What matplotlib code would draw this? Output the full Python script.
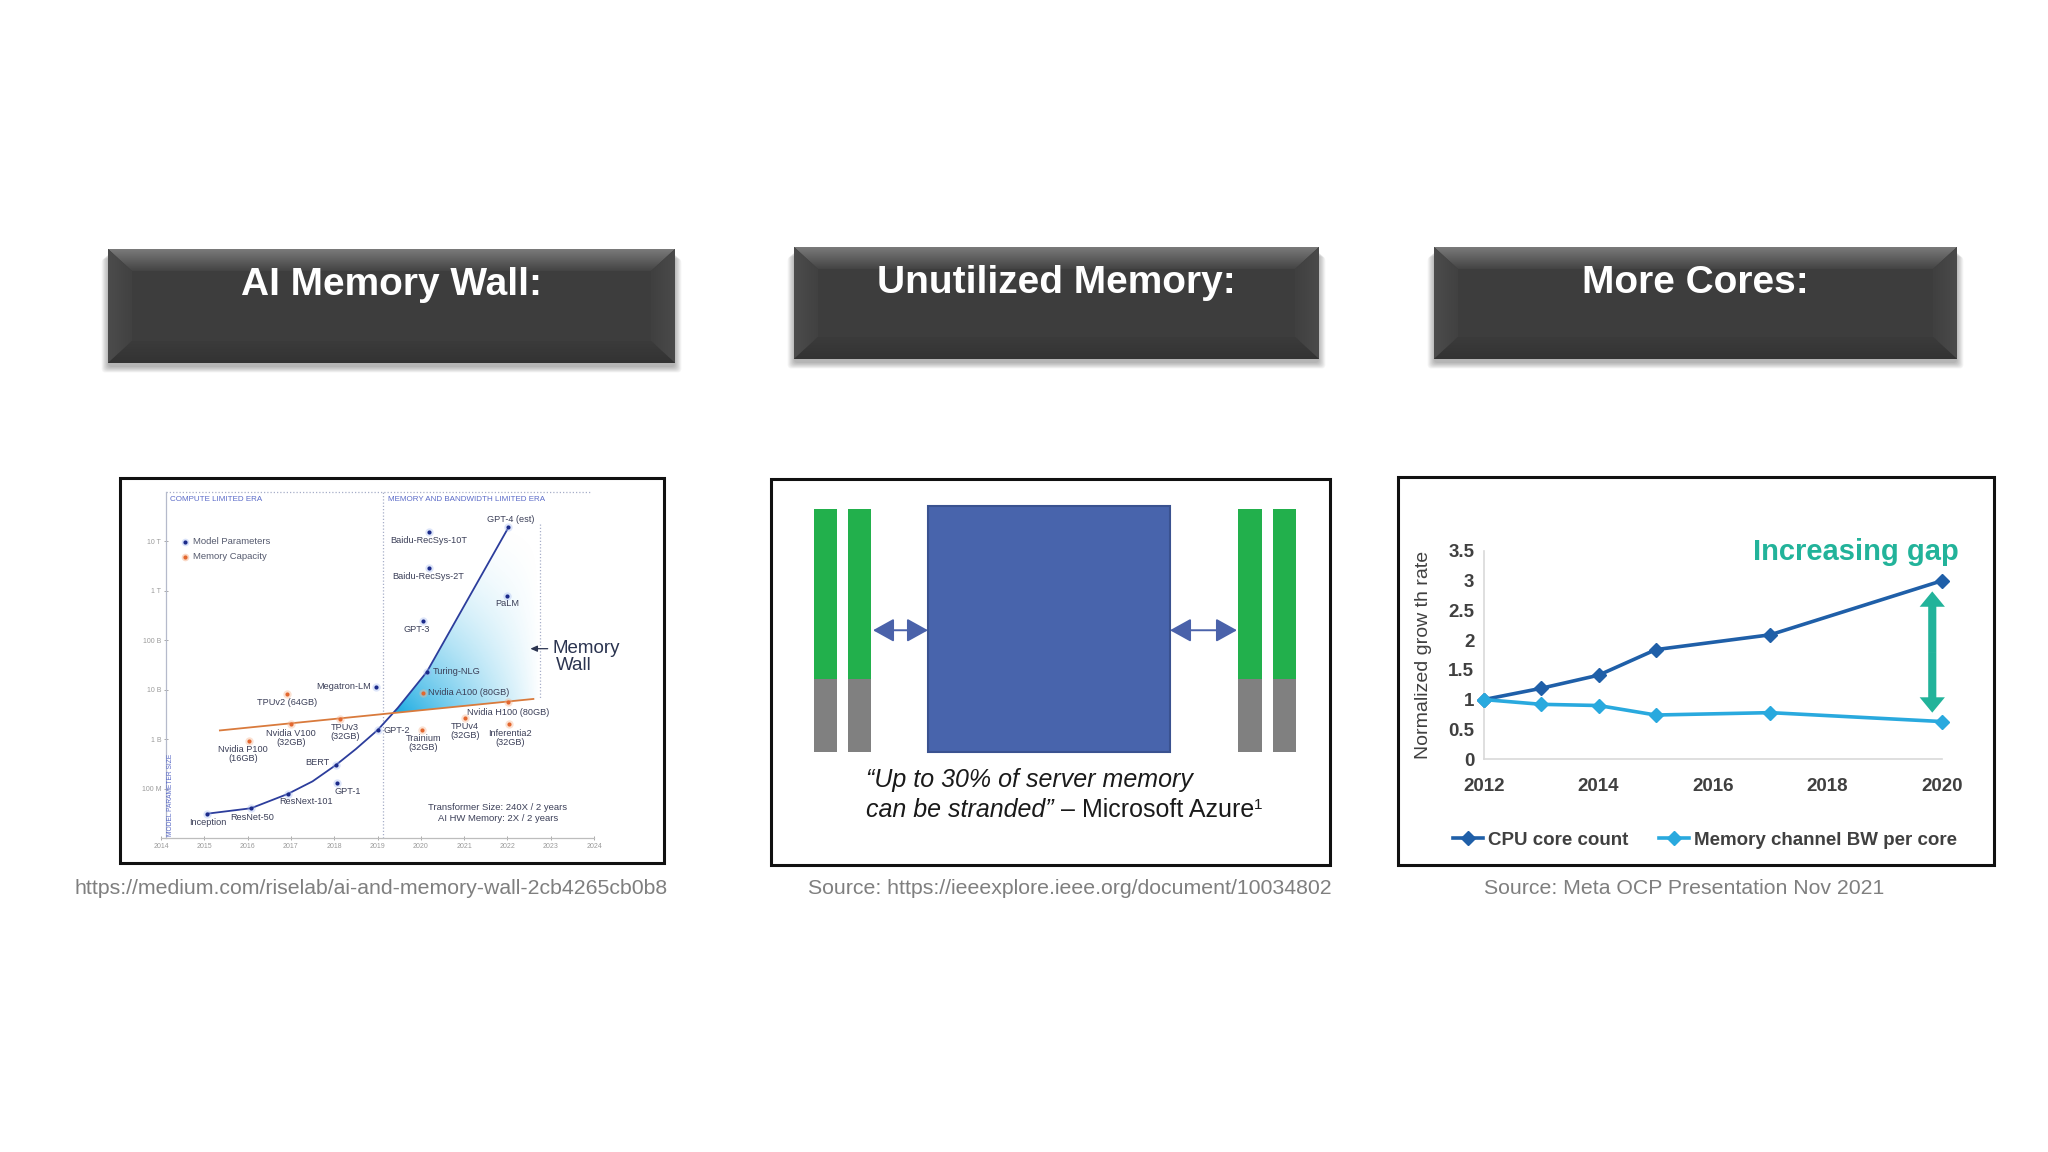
import numpy as np
import matplotlib
matplotlib.use("Agg")
import matplotlib.pyplot as plt
import matplotlib.colors as mcolors
from matplotlib.patches import Rectangle, Polygon, FancyArrowPatch, FancyBboxPatch
from matplotlib.ticker import FixedLocator, FixedFormatter, NullLocator

plt.rcParams['font.family'] = ['Liberation Sans', 'DejaVu Sans']

# ---------------- data ----------------
header_titles = ["AI Memory Wall:", "Unutilized Memory:", "More Cores:"]
source_captions = ["https://medium.com/riselab/ai-and-memory-wall-2cb4265cb0b8",
                   "Source: https://ieeexplore.ieee.org/document/10034802",
                   "Source: Meta OCP Presentation Nov 2021"]

# Panel 1 : AI memory wall
model_names = ["Inception", "ResNet-50", "ResNext-101", "BERT", "GPT-1", "GPT-2", "Megatron-LM",
               "Turing-NLG", "GPT-3", "Baidu-RecSys-2T", "Baidu-RecSys-10T", "PaLM", "GPT-4 (est)"]
model_years = [2015.06, 2016.08, 2016.93, 2018.04, 2018.06, 2019.01, 2018.97,
               2020.14, 2020.05, 2020.19, 2020.19, 2021.99, 2022.01]
model_params = [3.1e7, 4.0e7, 7.8e7, 3.0e8, 1.3e8, 1.5e9, 1.14e10,
                2.3e10, 2.4e11, 2.9e12, 1.56e13, 7.9e11, 1.98e13]

memory_names = ["TPUv2 (64GB)", "Nvidia V100\n(32GB)", "TPUv3\n(32GB)", "Nvidia P100\n(16GB)",
                "Nvidia A100 (80GB)", "Nvidia H100 (80GB)", "TPUv4\n(32GB)", "Inferentia2\n(32GB)",
                "Trainium\n(32GB)"]
memory_years = [2016.91, 2017.0, 2018.13, 2016.03, 2020.05, 2022.01, 2021.02, 2022.04, 2020.03]
memory_capacity = [8.2e9, 2.0e9, 2.6e9, 9.2e8, 8.7e9, 5.6e9, 2.7e9, 2.0e9, 1.5e9]

param_trend_years = [2015.06, 2016.08, 2016.93, 2017.5, 2018.04, 2018.5, 2019.01, 2019.47, 2020.14, 2021.99]
param_trend_values = [3.1e7, 4.0e7, 7.8e7, 1.4e8, 3.0e8, 6.3e8, 1.55e9, 4.3e9, 2.3e10, 1.7e13]
memory_trend_years = [2015.36, 2022.6]
memory_trend_values = [1.5e9, 6.5e9]

p1_xticks = [2014, 2015, 2016, 2017, 2018, 2019, 2020, 2021, 2022, 2023, 2024]
p1_yticks = [1e8, 1e9, 1e10, 1e11, 1e12, 1e13]
p1_yticklabels = ["100 M", "1 B", "10 B", "100 B", "1 T", "10 T"]
p1_legend = ["Model Parameters", "Memory Capacity"]
p1_era_labels = ["COMPUTE LIMITED ERA", "MEMORY AND BANDWIDTH LIMITED ERA"]
p1_notes = ["Transformer Size: 240X / 2 years", "AI HW Memory: 2X / 2 years"]

# Panel 2 : stranded memory
dimm_stranded_pct = [30, 30, 30, 30]
dimm_used_pct = [70, 70, 70, 70]

# Panel 3 : more cores
p3_years = [2012, 2013, 2014, 2015, 2017, 2020]
cpu_core_count = [1.0, 1.19, 1.41, 1.84, 2.09, 3.0]
mem_bw_per_core = [1.0, 0.92, 0.90, 0.74, 0.78, 0.63]
p3_xticks = [2012, 2014, 2016, 2018, 2020]
p3_yticks = [0, 0.5, 1, 1.5, 2, 2.5, 3, 3.5]
p3_yticklabels = ["0", "0.5", "1", "1.5", "2", "2.5", "3", "3.5"]

# ---------------- figure ----------------
W, H = 2048, 1152
fig = plt.figure(figsize=(W / 100, H / 100), dpi=100)
fig.patch.set_facecolor('white')

bg = fig.add_axes([0, 0, 1, 1])
bg.set_zorder(0)
bg.axis('off')


def px_axes(l, t, r, b, z=2):
    ax = fig.add_axes([l / W, 1 - b / H, (r - l) / W, (b - t) / H])
    ax.set_zorder(z)
    ax.patch.set_alpha(0)
    return ax


def grad_poly(verts, c0, c1, direction='v', z=3):
    poly = Polygon(verts, closed=True, fc='none', ec='none', transform=bg.transData)
    bg.add_patch(poly)
    xs = [v[0] for v in verts]
    ys = [v[1] for v in verts]
    x0, x1, y0, y1 = min(xs), max(xs), min(ys), max(ys)
    a = np.array(mcolors.to_rgb(c0))
    b = np.array(mcolors.to_rgb(c1))
    t = np.linspace(0, 1, 64)[:, None]
    cols = a[None, :] * (1 - t) + b[None, :] * t
    arr = cols[:, None, :] if direction == 'v' else cols[None, :, :]
    im = bg.imshow(arr, extent=(x0, x1, y1, y0), origin='upper', aspect='auto',
                   zorder=z, interpolation='bilinear')
    im.set_clip_path(poly)


def header_box(x0, y0, x1, y1, title, ty):
    w, h = x1 - x0, y1 - y0
    for i in range(9):
        bg.add_patch(FancyBboxPatch((x0 - i * 0.8, y0 + 4 + i * 0.7), w + i * 1.6, h,
                                    boxstyle='round,pad=0,rounding_size=4',
                                    fc='#000000', ec='none', alpha=0.035, zorder=1))
    bg.add_patch(Rectangle((x0, y0), w, h, fc='#3d3d3d', ec='none', zorder=2))
    b, bx = 22, 24
    grad_poly([(x0, y0), (x1, y0), (x1 - bx, y0 + b), (x0 + bx, y0 + b)], '#7a7a7a', '#444444', 'v')
    grad_poly([(x0, y0), (x0 + bx, y0 + b), (x0 + bx, y1 - b), (x0, y1)], '#4c4c4c', '#414141', 'h')
    grad_poly([(x1, y0), (x1 - bx, y0 + b), (x1 - bx, y1 - b), (x1, y1)], '#404040', '#4a4a4a', 'h')
    grad_poly([(x0, y1), (x0 + bx, y1 - b), (x1 - bx, y1 - b), (x1, y1)], '#3b3b3b', '#333333', 'v')
    bg.text((x0 + x1) / 2, ty, title, color='white', fontsize=28, fontweight='bold',
            ha='center', va='center', zorder=5)


header_box(108, 249, 675, 363, header_titles[0], 285)
header_box(794, 247, 1319, 359, header_titles[1], 283)
header_box(1434, 247, 1957, 359, header_titles[2], 283)

# panel borders
for (l, t, r, b) in [(120, 478, 664, 863), (771, 479, 1330, 865), (1398, 477, 1994, 865)]:
    bg.add_patch(Rectangle((l, t), r - l, b - t, fc='white', ec='#111111', lw=2.2, zorder=1))

# captions
for cx, txt in zip([371, 1070, 1684], source_captions):
    bg.text(cx, 888, txt, fontsize=15.3, color='#7f7f7f', ha='center', va='center', zorder=5)

# ---------------- Panel 1 ----------------
P1 = (161, 492, 594, 838)
ax1g = px_axes(*P1, z=1)
ax1g.set_xlim(2014, 2024)
ax1g.set_ylim(7, 14)
ax1g.axis('off')

yy = np.linspace(2019.0, 2022.0, 1201)
blue_log = np.interp(yy, param_trend_years, np.log10(param_trend_values))
orange_log = np.interp(yy, memory_trend_years, np.log10(memory_trend_values))
idx = int(np.argmax(blue_log >= orange_log))
x_cross, y_cross = yy[idx], orange_log[idx]
x_wall = 2022.75
lo0, lo1 = np.log10(memory_trend_values[0]), np.log10(memory_trend_values[1])
o_wall = lo0 + (lo1 - lo0) * (x_wall - memory_trend_years[0]) / (memory_trend_years[1] - memory_trend_years[0])
verts = [(x_cross, y_cross)]
for yr, v in zip(param_trend_years, param_trend_values):
    if yr > x_cross:
        verts.append((yr, np.log10(v)))
verts += [(x_wall, 13.36), (x_wall, o_wall)]
fill_poly = Polygon(verts, closed=True, fc='none', ec='none', transform=ax1g.transData)
ax1g.add_patch(fill_poly)
ny, nx = 160, 160
u = np.linspace(0, 1, nx)[None, :]
v = np.linspace(1, 0, ny)[:, None]
alpha = 0.95 * np.clip(1 - v, 0, 1) ** 1.5 * np.clip(1 - u, 0, 1) ** 0.9
alpha = np.clip(alpha + 0.10 * (1 - v) ** 0.5 * (1 - u) ** 2, 0, 1)
rgba = np.zeros((ny, nx, 4))
rgba[..., :3] = mcolors.to_rgb('#22aee3')
rgba[..., 3] = alpha
im = ax1g.imshow(rgba, extent=(x_cross, x_wall, y_cross, 13.4), origin='upper', aspect='auto',
                 interpolation='bilinear')
im.set_clip_path(fill_poly)
ax1g.set_xlim(2014, 2024)
ax1g.set_ylim(7, 14)

ax1 = px_axes(*P1, z=2)
ax1.set_xlim(2014, 2024)
ax1.set_yscale('log')
ax1.set_ylim(1e7, 1e14)
for s in ['top', 'right']:
    ax1.spines[s].set_visible(False)
ax1.spines['left'].set_position(('data', 2014.12))
ax1.spines['left'].set_color('#b5bacb')
ax1.spines['left'].set_linewidth(0.9)
ax1.spines['bottom'].set_color('#bdbdbd')
ax1.spines['bottom'].set_linewidth(0.9)
ax1.xaxis.set_major_locator(FixedLocator(p1_xticks))
ax1.xaxis.set_major_formatter(FixedFormatter([str(t) for t in p1_xticks]))
ax1.yaxis.set_major_locator(FixedLocator(p1_yticks))
ax1.yaxis.set_major_formatter(FixedFormatter(p1_yticklabels))
ax1.yaxis.set_minor_locator(NullLocator())
ax1.tick_params(labelsize=5, colors='#9a9a9a', length=3, width=0.6, direction='inout', pad=2)

dot_c = '#a7aec8'
ax1.plot([2014.12, 2023.9], [1e14, 1e14], ls=(0, (1, 1.6)), color=dot_c, lw=0.9, clip_on=False)
ax1.plot([2019.13, 2019.13], [1e7, 1e14], ls=(0, (1, 1.6)), color=dot_c, lw=0.9, clip_on=False)
ax1.plot([x_wall, x_wall], [10 ** 13.36, 10 ** o_wall], ls=(0, (1, 1.6)), color=dot_c, lw=0.9)

ax1.plot(param_trend_years, param_trend_values, color='#2c3d9c', lw=1.3, zorder=4)
ax1.plot(memory_trend_years, memory_trend_values, color='#d97a3c', lw=1.3, zorder=4)

ax1.scatter(model_years, model_params, s=36, color='#9fb6f0', alpha=0.35, lw=0, zorder=5)
ax1.scatter(model_years, model_params, s=9, color='#1b2a8a', lw=0, zorder=6)
ax1.scatter(memory_years, memory_capacity, s=36, color='#f5b48f', alpha=0.4, lw=0, zorder=5)
ax1.scatter(memory_years, memory_capacity, s=9, color='#e3672f', lw=0, zorder=6)

model_label_layout = [(1, -9, 'center'), (1, -9, 'center'), (18, -8, 'center'), (-6, 2, 'right'),
                      (11, -9, 'center'), (6, 0, 'left'), (-5, 0, 'right'), (6, 0, 'left'),
                      (-6, -8, 'center'), (-1, -8, 'center'), (0, -9, 'center'), (0, -8, 'center'),
                      (3, 7, 'center')]
memory_label_layout = [(0, -9, 'center'), (0, -13.5, 'center'), (5, -13.5, 'center'),
                       (-6, -13, 'center'), (5, 0, 'left'), (0, -10, 'center'),
                       (0, -13.5, 'center'), (1, -13.5, 'center'), (1, -12.5, 'center')]
lab_c = '#3b3f58'
for name, x, y, (dx, dy, ha) in zip(model_names, model_years, model_params, model_label_layout):
    ax1.annotate(name, (x, y), xytext=(dx, dy), textcoords='offset pixels', ha=ha, va='center',
                 fontsize=6.6, color=lab_c, zorder=7, annotation_clip=False)
for name, x, y, (dx, dy, ha) in zip(memory_names, memory_years, memory_capacity, memory_label_layout):
    ax1.annotate(name, (x, y), xytext=(dx, dy), textcoords='offset pixels', ha=ha, va='center',
                 fontsize=6.6, color=lab_c, zorder=7, linespacing=0.95, annotation_clip=False,
                 multialignment='center')

# legend
ax1.scatter([2014.55], [10 ** 12.99], s=30, color='#9fb6f0', alpha=0.4, lw=0)
ax1.scatter([2014.55], [10 ** 12.99], s=9, color='#1b2a8a', lw=0)
ax1.scatter([2014.55], [10 ** 12.69], s=30, color='#f5b48f', alpha=0.5, lw=0)
ax1.scatter([2014.55], [10 ** 12.69], s=9, color='#e3672f', lw=0)
ax1.text(2014.74, 10 ** 12.99, p1_legend[0], fontsize=6.8, color='#555a6e', va='center')
ax1.text(2014.74, 10 ** 12.69, p1_legend[1], fontsize=6.8, color='#555a6e', va='center')

ax1.text(2014.21, 10 ** 13.84, p1_era_labels[0], fontsize=5.8, color='#5b6bc8', va='center')
ax1.text(2019.24, 10 ** 13.84, p1_era_labels[1], fontsize=5.8, color='#5b6bc8', va='center')
ax1.text(2014.23, 10 ** 7.87, "MODEL PARAMETER SIZE", fontsize=4.8, color='#5b6bc8', rotation=90,
         ha='center', va='center')
ax1.text(2021.78, 10 ** 7.607, p1_notes[0], fontsize=6.8, color=lab_c, ha='center', va='center')
ax1.text(2021.78, 10 ** 7.385, p1_notes[1], fontsize=6.8, color=lab_c, ha='center', va='center')

ax1.annotate('', xy=(2022.53, 10 ** 10.83), xytext=(2022.93, 10 ** 10.83),
             arrowprops=dict(arrowstyle='-|>,head_length=0.4,head_width=0.18', color='#2b3450', lw=0.9,
                             shrinkA=0, shrinkB=0), annotation_clip=False)
ax1.text(2023.05, 10 ** 10.83, "Memory", fontsize=13.5, color='#2b3450', va='center', ha='left',
         clip_on=False)
ax1.text(2023.13, 10 ** 10.5, "Wall", fontsize=13.5, color='#2b3450', va='center', ha='left',
         clip_on=False)

# ---------------- Panel 2 ----------------
ax2 = px_axes(771, 479, 1330, 865, z=2)
k = 2.435
ax2.set_xlim(771, 1330)
ax2.set_ylim((752 - 865) / k, (752 - 479) / k)
ax2.axis('off')
dimm_x = [825.25, 859.5, 1249.75, 1284.5]
ax2.bar(dimm_x, dimm_stranded_pct, width=23.5, color='#808080', lw=0)
ax2.bar(dimm_x, dimm_used_pct, bottom=dimm_stranded_pct, width=23.5, color='#22b04c', lw=0)
ax2.add_patch(Rectangle((928, 0), 242, 101, fc='#4864ac', ec='#3a5290', lw=1.5))
for xa, xb in [(873, 928), (1170, 1237)]:
    ax2.add_patch(FancyArrowPatch((xa, 50), (xb, 50),
                                  arrowstyle='<|-|>,head_length=1.3,head_width=0.72',
                                  mutation_scale=10, lw=1.4, color='#4a62aa',
                                  shrinkA=0, shrinkB=0))

t1 = bg.text(866, 780, "\u201cUp to 30% of server memory", style='italic', fontsize=18,
             color='#1a1a1a', ha='left', va='center', zorder=6)
t2a = bg.text(866, 810, "can be stranded\u201d", style='italic', fontsize=18,
              color='#1a1a1a', ha='left', va='center', zorder=6)
t2b = bg.annotate(" \u2013 Microsoft Azure", xy=(1, 0), xycoords=t2a, ha='left', va='bottom',
                  fontsize=18, color='#1a1a1a', zorder=6)
bg.annotate("1", xy=(1, 1), xycoords=t2b, ha='left', va='top', fontsize=11, color='#1a1a1a', zorder=6)

# ---------------- Panel 3 ----------------
ax3 = px_axes(1484, 551, 1942, 759, z=2)
ax3.set_xlim(2012, 2020)
ax3.set_ylim(0, 3.5)
for s in ['top', 'right']:
    ax3.spines[s].set_visible(False)
for s in ['left', 'bottom']:
    ax3.spines[s].set_color('#d9d9d9')
    ax3.spines[s].set_linewidth(1.2)
l_cpu, = ax3.plot(p3_years, cpu_core_count, color='#1f5fa8', lw=2.6, marker='D', ms=7.5,
                  clip_on=False, label='CPU core count', zorder=3)
l_mem, = ax3.plot(p3_years, mem_bw_per_core, color='#29a9de', lw=2.6, marker='D', ms=7.5,
                  clip_on=False, label='Memory channel BW per core', zorder=4)
ax3.xaxis.set_major_locator(FixedLocator(p3_xticks))
ax3.xaxis.set_major_formatter(FixedFormatter([str(t) for t in p3_xticks]))
ax3.yaxis.set_major_locator(FixedLocator(p3_yticks))
ax3.yaxis.set_major_formatter(FixedFormatter(p3_yticklabels))
ax3.tick_params(length=0, labelsize=13.5, labelcolor='#404040')
ax3.tick_params(axis='x', pad=14)
ax3.tick_params(axis='y', pad=7)
for lab in ax3.get_xticklabels() + ax3.get_yticklabels():
    lab.set_fontweight('bold')
ax3.set_ylabel("Normalized grow th rate", fontsize=14, color='#404040', labelpad=12)
leg = ax3.legend(handles=[l_cpu, l_mem], loc='center', bbox_to_anchor=(0.4825, -0.39), ncol=2,
                 frameon=False, prop={'weight': 'bold', 'size': 13.5}, handlelength=1.6,
                 handletextpad=0.3, columnspacing=1.6, borderaxespad=0)
for t in leg.get_texts():
    t.set_color('#404040')

teal = '#22b39a'
x_a = p3_years[-1] - 0.17
top_a = cpu_core_count[-1] - 0.18
bot_a = mem_bw_per_core[-1] + 0.15
mid_a = (top_a + bot_a) / 2
for end in [top_a, bot_a]:
    ax3.add_patch(FancyArrowPatch((x_a, mid_a), (x_a, end),
                                  arrowstyle='simple,head_length=0.85,head_width=1.4,tail_width=0.45',
                                  mutation_scale=13, lw=0, color=teal, shrinkA=0, shrinkB=0,
                                  clip_on=False))
bg.text(1753, 552, "Increasing gap", fontsize=21, fontweight='bold', color=teal, ha='left',
        va='center', zorder=6)

bg.set_xlim(0, W)
bg.set_ylim(H, 0)

fig.savefig('out.png', dpi=100, facecolor='white')
